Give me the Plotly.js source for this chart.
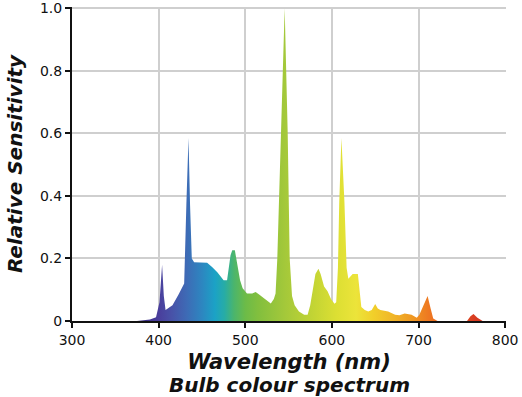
<!DOCTYPE html>
<html>
<head>
<meta charset="utf-8">
<script src="https://cdn.plot.ly/plotly-3.0.1.min.js"></script>
<style>html,body{margin:0;padding:0;background:#fff;}#chart{width:522px;height:397px;}</style>
</head>
<body>
<div id="chart"></div>
<script>
// Wavelength (nm) and relative sensitivity
const wavelength = [375, 380, 390, 397, 401, 404, 406, 408, 416, 423, 429.5, 432, 434.5, 436.3, 438.3, 441, 448, 456, 462, 468, 475, 479, 483, 485, 488, 491, 494, 497, 502, 508, 512, 516, 520, 525, 529.5, 533, 535, 537, 541.5, 545.5, 549, 551.3, 554, 557, 562, 568, 572, 575, 578, 581, 584.5, 587, 591, 595, 599, 603, 605, 607, 608.5, 611, 614.5, 617, 619, 621, 624, 630, 632, 634, 638, 642, 646, 650, 653, 656, 665, 673, 678, 684, 692, 698, 701, 706, 710.5, 714, 717, 722, 756, 760, 763.5, 768, 774];
const sensitivity = [0, 0.002, 0.005, 0.012, 0.06, 0.18, 0.08, 0.035, 0.05, 0.085, 0.12, 0.37, 0.585, 0.37, 0.2, 0.188, 0.188, 0.186, 0.172, 0.155, 0.13, 0.13, 0.21, 0.226, 0.226, 0.17, 0.13, 0.105, 0.088, 0.088, 0.093, 0.085, 0.077, 0.065, 0.056, 0.07, 0.088, 0.2, 0.6, 1.0, 0.6, 0.2, 0.08, 0.05, 0.03, 0.02, 0.02, 0.05, 0.1, 0.15, 0.167, 0.15, 0.11, 0.095, 0.07, 0.055, 0.06, 0.17, 0.38, 0.585, 0.38, 0.17, 0.135, 0.14, 0.15, 0.15, 0.09, 0.045, 0.035, 0.03, 0.035, 0.054, 0.04, 0.035, 0.03, 0.02, 0.018, 0.024, 0.02, 0.01, 0.02, 0.05, 0.08, 0.04, 0.008, 0, 0, 0.015, 0.022, 0.01, 0];

const xTicks = [300, 400, 500, 600, 700, 800];
const yTicks = [0, 0.2, 0.4, 0.6, 0.8, 1.0];
const yTickLabels = ['0', '0.2', '0.4', '0.6', '0.8', '1.0'];

// Spectrum colours by wavelength (380..780 nm)
const specStops = [380, 400, 415, 432, 450, 465, 476, 487, 500, 515, 545, 580, 605, 628, 648, 672, 695, 712, 740, 765, 780];
const specColors = ['#3b2f85', '#4a3e9c', '#4852a8', '#3e6ab5', '#2d86c0', '#1ba2c6', '#27aca6', '#4bb56c', '#6cbb48', '#82bf3e', '#a3c83a', '#c4d534', '#dcdf33', '#ece43a', '#f1cf2a', '#f0b428', '#ef9522', '#ee7822', '#e65a22', '#d83c22', '#cf3020'];
const gMin = specStops[0], gMax = specStops[specStops.length - 1];
const colorscale = specStops.map((s, i) => [(s - gMin) / (gMax - gMin), specColors[i]]);

const trace = {
  x: wavelength,
  y: sensitivity,
  type: 'scatter',
  mode: 'lines',
  line: {width: 0, color: 'rgba(0,0,0,0)'},
  fill: 'tozeroy',
  fillgradient: {type: 'horizontal', colorscale: colorscale, start: gMin, stop: gMax},
  hoverinfo: 'x+y'
};

const fontFam = '"DejaVu Sans", Verdana, sans-serif';
const layout = {
  width: 522, height: 397,
  margin: {l: 72, r: 16, t: 7, b: 76},
  paper_bgcolor: '#fff', plot_bgcolor: '#fff',
  showlegend: false,
  font: {family: fontFam, color: '#111'},
  xaxis: {
    range: [300, 801], tickvals: xTicks, ticktext: xTicks.map(String),
    showgrid: true, gridcolor: '#cfcfcf', gridwidth: 2,
    showline: true, linecolor: '#111', linewidth: 2,
    ticks: 'outside', ticklen: 5, tickwidth: 2, tickcolor: '#111',
    tickfont: {size: 14, family: fontFam, color: '#111'},
    ticklabeloverflow: 'allow',
    zeroline: false, fixedrange: true,
    title: {text: '<b><i>Wavelength (nm)</i></b>', font: {size: 21, family: fontFam, color: '#111'}, standoff: 8}
  },
  yaxis: {
    range: [0, 1.004], tickvals: yTicks, ticktext: yTickLabels,
    showgrid: true, gridcolor: '#cfcfcf', gridwidth: 2,
    showline: true, linecolor: '#111', linewidth: 2,
    ticks: 'outside', ticklen: 5, tickwidth: 2, tickcolor: '#111',
    tickfont: {size: 14, family: fontFam, color: '#111'},
    ticklabeloverflow: 'allow',
    zeroline: false, fixedrange: true,
    title: {text: '<b><i>Relative Sensitivity</i></b>', font: {size: 20, family: fontFam, color: '#111'}, standoff: 12}
  },
  annotations: [{
    text: '<b><i>Bulb colour spectrum</i></b>', xref: 'paper', yref: 'paper',
    x: 0.5, y: 0, yshift: -64, xanchor: 'center', yanchor: 'middle', showarrow: false,
    font: {size: 20, family: fontFam, color: '#111'}
  }]
};

Plotly.newPlot('chart', [trace], layout, {displayModeBar: false, staticPlot: true});
</script>
</body>
</html>
